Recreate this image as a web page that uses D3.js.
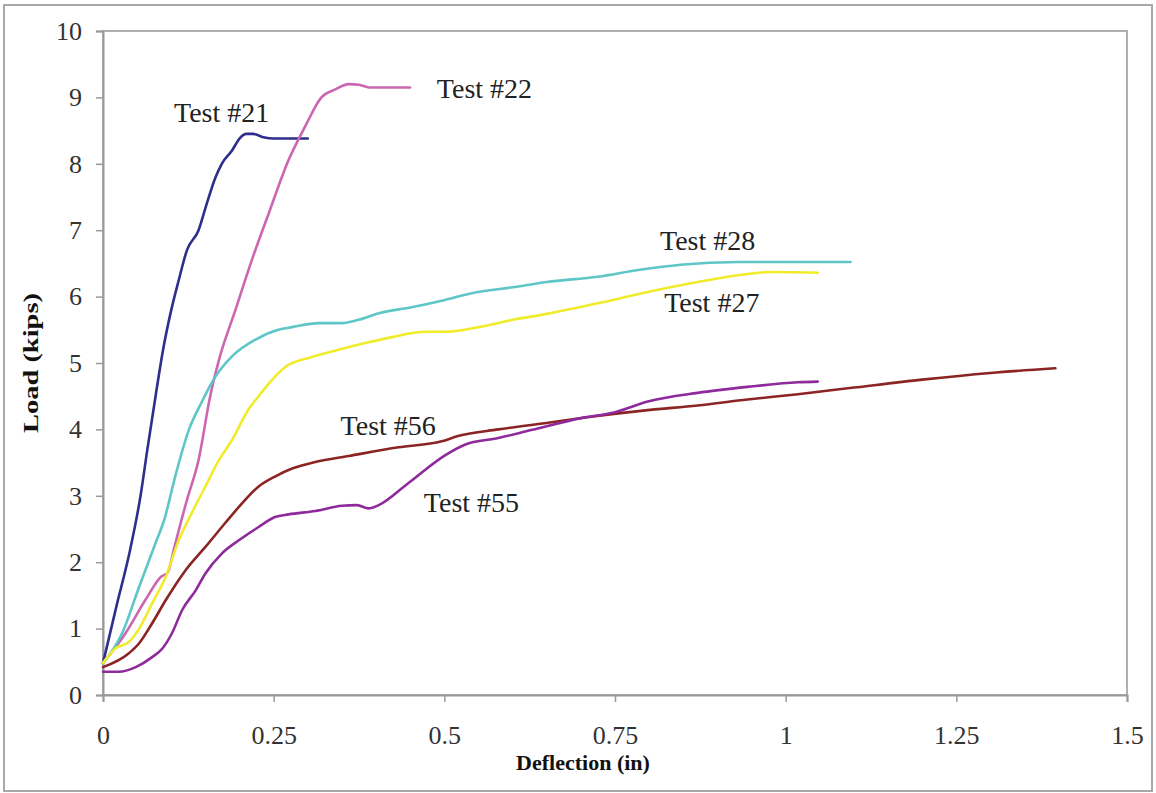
<!DOCTYPE html>
<html>
<head>
<meta charset="utf-8">
<script src="https://cdn.jsdelivr.net/npm/d3@7"></script>
<style>
  body { margin: 0; background: #fff; }
  svg { display: block; font-family: "Liberation Serif", "Times New Roman", serif; }
</style>
</head>
<body>
<svg id="svg" width="1156" height="793"></svg>
<script>
// 各試験の荷重-変位データ (deflection in, load kips)
const test21Defl = [0, 0.02, 0.04, 0.055, 0.065, 0.077, 0.088, 0.1, 0.111, 0.123, 0.14, 0.152, 0.165, 0.174, 0.189, 0.2, 0.21, 0.22, 0.235, 0.25, 0.3];
const test21Load = [0.48, 1.35, 2.2, 3.0, 3.7, 4.5, 5.2, 5.8, 6.25, 6.7, 7.0, 7.4, 7.8, 8.0, 8.2, 8.38, 8.45, 8.45, 8.4, 8.38, 8.38];

const test22Defl = [0, 0.033, 0.062, 0.085, 0.095, 0.104, 0.114, 0.123, 0.14, 0.157, 0.17, 0.194, 0.218, 0.243, 0.272, 0.296, 0.32, 0.34, 0.36, 0.375, 0.39, 0.45];
const test22Load = [0.48, 0.93, 1.43, 1.78, 1.85, 2.2, 2.6, 2.94, 3.54, 4.5, 5.05, 5.8, 6.55, 7.26, 8.06, 8.56, 9.0, 9.12, 9.2, 9.19, 9.15, 9.15];

const test28Defl = [0, 0.028, 0.053, 0.077, 0.09, 0.106, 0.126, 0.145, 0.165, 0.189, 0.223, 0.257, 0.277, 0.316, 0.35, 0.374, 0.404, 0.452, 0.501, 0.54, 0.6, 0.65, 0.725, 0.784, 0.846, 0.93, 1.095];
const test28Load = [0.48, 0.93, 1.63, 2.29, 2.65, 3.3, 4.0, 4.42, 4.8, 5.1, 5.35, 5.5, 5.54, 5.6, 5.6, 5.65, 5.75, 5.84, 5.95, 6.05, 6.14, 6.22, 6.3, 6.4, 6.48, 6.52, 6.52];

const test27Defl = [0, 0.018, 0.038, 0.053, 0.072, 0.092, 0.111, 0.13, 0.15, 0.17, 0.189, 0.213, 0.228, 0.247, 0.267, 0.306, 0.345, 0.384, 0.423, 0.472, 0.501, 0.55, 0.6, 0.65, 0.725, 0.798, 0.871, 0.944, 0.978, 1.047];
const test27Load = [0.48, 0.7, 0.8, 1.0, 1.38, 1.78, 2.33, 2.74, 3.14, 3.54, 3.84, 4.3, 4.5, 4.74, 4.94, 5.09, 5.2, 5.3, 5.39, 5.47, 5.47, 5.54, 5.65, 5.74, 5.9, 6.07, 6.22, 6.34, 6.37, 6.36];

const test56Defl = [0, 0.038, 0.053, 0.072, 0.092, 0.121, 0.15, 0.179, 0.204, 0.228, 0.252, 0.277, 0.311, 0.36, 0.433, 0.496, 0.52, 0.579, 0.652, 0.715, 0.798, 0.871, 0.944, 1.018, 1.1, 1.2, 1.3, 1.395];
const test56Load = [0.42, 0.63, 0.78, 1.08, 1.43, 1.88, 2.23, 2.59, 2.89, 3.14, 3.29, 3.41, 3.51, 3.6, 3.73, 3.82, 3.9, 4.0, 4.1, 4.19, 4.29, 4.36, 4.45, 4.53, 4.63, 4.75, 4.85, 4.92];

const test55Defl = [0, 0.023, 0.048, 0.072, 0.087, 0.101, 0.116, 0.136, 0.15, 0.174, 0.199, 0.228, 0.252, 0.272, 0.311, 0.35, 0.372, 0.389, 0.404, 0.447, 0.501, 0.53, 0.579, 0.627, 0.7, 0.75, 0.798, 0.871, 0.944, 1.018, 1.047];
const test55Load = [0.35, 0.35, 0.42, 0.57, 0.7, 0.93, 1.28, 1.58, 1.83, 2.13, 2.33, 2.53, 2.68, 2.72, 2.77, 2.85, 2.86, 2.81, 2.86, 3.19, 3.61, 3.77, 3.87, 3.99, 4.17, 4.26, 4.42, 4.55, 4.64, 4.71, 4.72];

// 軸の目盛
const xTicks = [0, 0.25, 0.5, 0.75, 1, 1.25, 1.5];
const yTicks = [0, 1, 2, 3, 4, 5, 6, 7, 8, 9, 10];

// ラベル (データ座標で左端・ベースライン)
const labelNames = ["Test #21", "Test #22", "Test #28", "Test #27", "Test #56", "Test #55"];
const labelDefl = [0.104, 0.489, 0.816, 0.822, 0.348, 0.47];
const labelLoad = [8.63, 8.99, 6.7, 5.77, 3.92, 2.76];

// 系列の組み立て
const series = [
  { name: "Test #21", defl: test21Defl, load: test21Load, color: "#2e2e8c" },
  { name: "Test #22", defl: test22Defl, load: test22Load, color: "#cc66b0" },
  { name: "Test #28", defl: test28Defl, load: test28Load, color: "#5fc6c8" },
  { name: "Test #27", defl: test27Defl, load: test27Load, color: "#f0ec2c" },
  { name: "Test #56", defl: test56Defl, load: test56Load, color: "#8c2424" },
  { name: "Test #55", defl: test55Defl, load: test55Load, color: "#8e2a9c" }
];

const svg = d3.select("#svg");
const plotLeft = 103, plotRight = 1127, plotTop = 31, plotBottom = 695;

const x = d3.scaleLinear().domain([0, 1.5]).range([plotLeft, plotRight]);
const y = d3.scaleLinear().domain([0, 10]).range([plotBottom, plotTop]);

//外枠
svg.append("rect")
  .attr("x", 4).attr("y", 5)
  .attr("width", 1148).attr("height", 786)
  .attr("fill", "#fff")
  .attr("stroke", "#a8a8a8")
  .attr("stroke-width", 2);

//プロット領域の枠
svg.append("rect")
  .attr("x", plotLeft).attr("y", plotTop)
  .attr("width", plotRight - plotLeft).attr("height", plotBottom - plotTop)
  .attr("fill", "none")
  .attr("stroke", "#b0b0b0")
  .attr("stroke-width", 2);

//X軸
const xAxis = svg.append("g")
  .attr("transform", `translate(0,${plotBottom})`)
  .call(d3.axisBottom(x).tickValues(xTicks).tickFormat(d3.format("")).tickSize(7).tickPadding(24));
xAxis.select(".domain").attr("stroke", "#999").attr("stroke-width", 2);
xAxis.selectAll(".tick line").attr("stroke", "#999").attr("stroke-width", 1.5);
xAxis.selectAll(".tick text")
  .attr("font-family", "Liberation Serif")
  .attr("font-size", 26)
  .attr("fill", "#333");

//Y軸
const yAxis = svg.append("g")
  .attr("transform", `translate(${plotLeft},0)`)
  .call(d3.axisLeft(y).tickValues(yTicks).tickSize(7).tickPadding(14));
yAxis.select(".domain").attr("stroke", "#999").attr("stroke-width", 2);
yAxis.selectAll(".tick line").attr("stroke", "#999").attr("stroke-width", 1.5);
yAxis.selectAll(".tick text")
  .attr("font-family", "Liberation Serif")
  .attr("font-size", 26)
  .attr("fill", "#333");

//軸タイトル
svg.append("text")
  .attr("x", 583).attr("y", 770)
  .attr("text-anchor", "middle")
  .attr("font-size", 22)
  .attr("font-weight", "bold")
  .attr("fill", "#111")
  .text("Deflection (in)");

svg.append("text")
  .attr("transform", "translate(38,363) rotate(-90)")
  .attr("text-anchor", "middle")
  .attr("font-size", 22)
  .attr("font-weight", "bold")
  .attr("fill", "#111")
  .attr("textLength", 140)
  .attr("lengthAdjust", "spacingAndGlyphs")
  .text("Load (kips)");

//曲線の描画
const line = d3.line()
  .curve(d3.curveMonotoneX)
  .x((d) => x(d[0]))
  .y((d) => y(d[1]));

series.forEach((s) => {
  const pts = s.defl.map((v, i) => [v, s.load[i]]);
  svg.append("path")
    .datum(pts)
    .attr("d", line)
    .attr("fill", "none")
    .attr("stroke", s.color)
    .attr("stroke-width", 2.6)
    .attr("stroke-linejoin", "round")
    .attr("stroke-linecap", "round");
});

//ラベル
labelNames.forEach((name, i) => {
  svg.append("text")
    .attr("x", x(labelDefl[i]))
    .attr("y", y(labelLoad[i]))
    .attr("font-size", 28)
    .attr("fill", "#222")
    .text(name);
});
</script>
</body>
</html>
